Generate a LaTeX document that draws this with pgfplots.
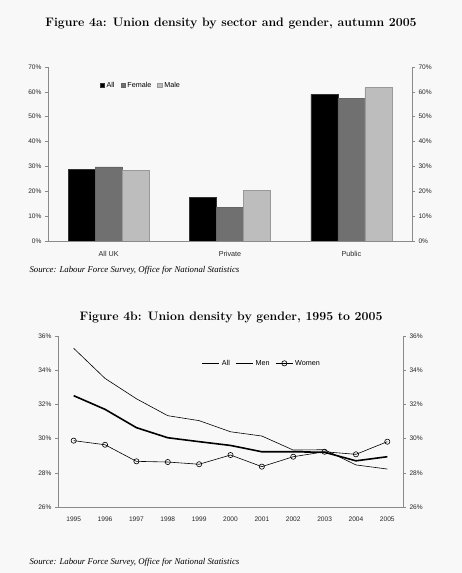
\documentclass[border=0pt]{standalone}
\usepackage{pgfplots}
\pgfplotsset{compat=1.18}
\usepackage{fontspec}
\newfontfamily\arialfont{Liberation Sans}
\newfontfamily\srcfont{Liberation Serif}
\definecolor{bg}{HTML}{F8F8F8}
\definecolor{femgray}{HTML}{707070}
\definecolor{malegray}{HTML}{BDBDBD}
\definecolor{axgray}{HTML}{8A8A8A}

\pgfplotsset{
  base/.style={
    scale only axis,
    /pgf/number format/assume math mode=true,
    tick label style={font=\arialfont\fontsize{6.6}{7}\selectfont, text=black!85},
    axis line style={axgray, line width=0.5pt},
    tick style={axgray, line width=0.5pt},
    tick align=outside,
    major tick length=3pt,
    legend style={draw=none, fill=none, font=\arialfont\fontsize{7.2}{8}\selectfont,
      /tikz/every even column/.append style={column sep=4pt}},
  },
}

\begin{document}
\begin{tikzpicture}
\fill[bg] (0pt,0pt) rectangle (462pt,573pt);
\useasboundingbox (0pt,0pt) rectangle (462pt,573pt);

% ---------- Figure 4a ----------
\node[font=\bfseries\fontsize{12.3}{14}\selectfont] at (231pt,550pt) {Figure 4a: Union density by sector and gender, autumn 2005};

\begin{axis}[base,
  at={(48pt,332pt)}, anchor=south west,
  width=364pt, height=174pt,
  ybar=0pt, bar width=27pt,
  xmin=0, xmax=3, ymin=0, ymax=70,
  axis x line*=bottom, axis y line*=left,
  xtick={0.5,1.5,2.5}, xticklabels={All UK, Private, Public},
  x tick style={draw=none},
  x tick label style={font=\arialfont\fontsize{7.2}{8}\selectfont},
  extra x ticks={1,2}, extra x tick labels={},
  extra x tick style={tick style={axgray}},
  x tick label style={yshift=-4pt},
  ytick={0,10,...,70},
  yticklabel={\pgfmathprintnumber{\tick}\%},
  legend columns=3,
  legend style={at={(0.255,0.895)}, anchor=center},
  legend image code/.code={\fill[#1] (0pt,-2pt) rectangle (4.5pt,2.5pt);},
]
\addplot[fill=black, draw=black!80] coordinates {(0.5,28.9) (1.5,17.5) (2.5,58.9)};
\addplot[fill=femgray, draw=black!60] coordinates {(0.5,29.8) (1.5,13.6) (2.5,57.3)};
\addplot[fill=malegray, draw=black!40] coordinates {(0.5,28.4) (1.5,20.3) (2.5,61.7)};
\legend{All, Female, Male}
\end{axis}
\begin{axis}[base,
  at={(48pt,332pt)}, anchor=south west,
  width=364pt, height=174pt,
  xmin=0, xmax=3, ymin=0, ymax=70,
  axis x line=none, axis y line*=right,
  ytick={0,10,...,70},
  yticklabel={\pgfmathprintnumber{\tick}\%},
]
\addplot[draw=none] coordinates {(0,0)};
\end{axis}

\node[anchor=west, font=\srcfont\itshape\fontsize{8.8}{10}\selectfont] at (26pt,303pt) {Source: Labour Force Survey, Office for National Statistics};

% ---------- Figure 4b ----------
\node[font=\bfseries\fontsize{12.3}{14}\selectfont] at (231pt,256pt) {Figure 4b: Union density by gender, 1995 to 2005};

\begin{axis}[base,
  at={(58pt,66pt)}, anchor=south west,
  width=345pt, height=171pt,
  xmin=-0.5, xmax=10.5, ymin=26, ymax=36,
  axis x line*=bottom, axis y line*=left,
  xtick={0,...,10},
  xticklabels={1995,1996,1997,1998,1999,2000,2001,2002,2003,2004,2005},
  x tick style={draw=none},
  extra x ticks={-0.5,0.5,...,10.5}, extra x tick labels={},
  extra x tick style={tick style={axgray}},
  x tick label style={yshift=-3pt},
  ytick={26,28,...,36},
  yticklabel={\pgfmathprintnumber{\tick}\%},
  legend columns=3,
  legend style={at={(0.59,0.84)}, anchor=center},
]
\addplot[black, line width=1.6pt, mark=none] coordinates {
  (0,32.51) (1,31.71) (2,30.64) (3,30.05) (4,29.82) (5,29.60)
  (6,29.23) (7,29.23) (8,29.20) (9,28.70) (10,28.94)};
\addplot[black, line width=0.6pt, mark=none] coordinates {
  (0,35.28) (1,33.52) (2,32.33) (3,31.34) (4,31.05) (5,30.40)
  (6,30.15) (7,29.33) (8,29.35) (9,28.46) (10,28.22)};
\addplot[black, line width=0.6pt, mark=o, mark size=2.6pt, mark options={line width=0.6pt}]
  coordinates {
  (0,29.88) (1,29.64) (2,28.67) (3,28.63) (4,28.50) (5,29.04)
  (6,28.36) (7,28.94) (8,29.23) (9,29.08) (10,29.82)};
\legend{All, Men, Women}
\end{axis}
\begin{axis}[base,
  at={(58pt,66pt)}, anchor=south west,
  width=345pt, height=171pt,
  xmin=-0.5, xmax=10.5, ymin=26, ymax=36,
  axis x line=none, axis y line*=right,
  ytick={26,28,...,36},
  yticklabel={\pgfmathprintnumber{\tick}\%},
]
\addplot[draw=none] coordinates {(0,26)};
\end{axis}

\node[anchor=west, font=\srcfont\itshape\fontsize{8.8}{10}\selectfont] at (26pt,11pt) {Source: Labour Force Survey, Office for National Statistics};
\end{tikzpicture}
\end{document}
